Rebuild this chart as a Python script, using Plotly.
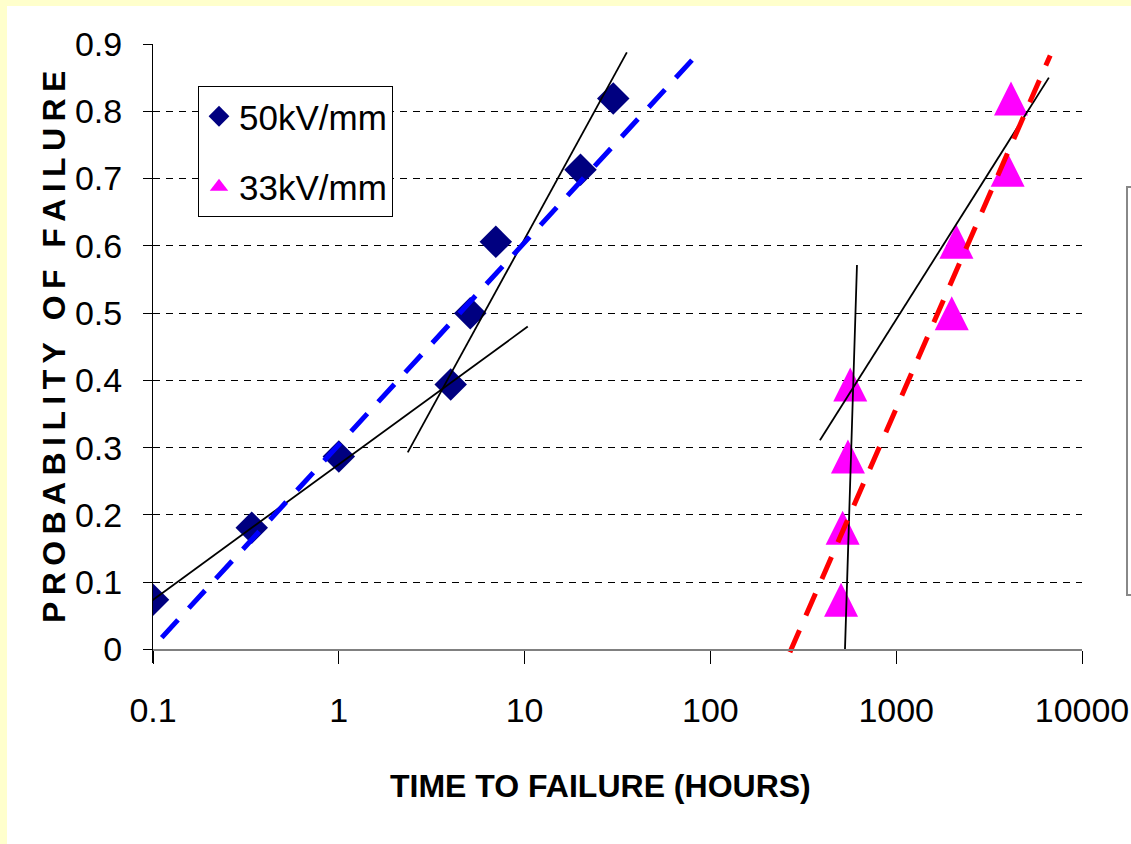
import plotly.graph_objects as go

# ---- data ----
series_names = ["50kV/mm", "33kV/mm"]
prob = [0.074, 0.181, 0.287, 0.394, 0.5, 0.606, 0.713, 0.819]
time_50 = [0.1, 0.34, 1.0, 4.0, 5.1, 7.0, 20, 30]
time_33 = [505, 515, 550, 566, 1990, 2110, 3980, 4150]

# fitted straight lines (end points)
fit50_low_x = [0.0638, 10.4]
fit50_low_y = [0.0346, 0.480]
fit50_high_x = [2.35, 35.5]
fit50_high_y = [0.293, 0.8875]
fit33_low_x = [530, 615]
fit33_low_y = [0.0, 0.5715]
fit33_high_x = [388.7, 6633]
fit33_high_y = [0.311, 0.850]
dash50_x = [0.0797, 79.6]
dash50_y = [-0.026, 0.876]
dash33_x = [267.8, 6745]
dash33_y = [-0.004, 0.883]

x_tickvals = [0.1, 1, 10, 100, 1000, 10000]
x_ticktext = ["0.1", "1", "10", "100", "1000", "10000"]
y_tickvals = [0, 0.1, 0.2, 0.3, 0.4, 0.5, 0.6, 0.7, 0.8, 0.9]
y_ticktext = ["0", "0.1", "0.2", "0.3", "0.4", "0.5", "0.6", "0.7", "0.8", "0.9"]

FONT = "Liberation Sans, Arial, sans-serif"
W, H = 1131, 844
ML, MR, MT, MB = 153, 49, 44, 181
PW, PH = W - ML - MR, H - MT - MB
Y0, Y1 = -0.02, 0.9

fig = go.Figure()

fig.add_trace(go.Scatter(
    x=time_50, y=prob, mode="markers", name=series_names[0],
    legendgroup="a",
    marker=dict(symbol="diamond", size=25, color="#000080"),
))
# 33kV/mm: small triangle (legend key) underneath the big triangle marker
fig.add_trace(go.Scatter(
    x=time_33, y=prob, mode="markers", name=series_names[1],
    legendgroup="b",
    marker=dict(symbol="triangle-up", size=16, color="#FF00FF"),
))
fig.add_trace(go.Scatter(
    x=time_33, y=prob, mode="markers", name=series_names[1],
    legendgroup="b", showlegend=False,
    marker=dict(symbol="arrow-down", angle=180, standoff=17, size=34, color="#FF00FF"),
))

for xs, ys in [(fit50_low_x, fit50_low_y), (fit50_high_x, fit50_high_y),
               (fit33_low_x, fit33_low_y), (fit33_high_x, fit33_high_y)]:
    fig.add_trace(go.Scatter(x=xs, y=ys, mode="lines", showlegend=False,
                             line=dict(color="black", width=1.8)))

fig.add_trace(go.Scatter(x=dash50_x, y=dash50_y, mode="lines", showlegend=False,
                         line=dict(color="#0000FF", width=5, dash="24px,16px")))
fig.add_trace(go.Scatter(x=dash33_x, y=dash33_y, mode="lines", showlegend=False,
                         line=dict(color="#FF0000", width=5, dash="24px,16px")))


def px_x(p):
    return (p - ML) / PW


def px_y(q):
    return (H - MB - q) / PH


ytitle = ("\u2009".join("PROBABILITY") + "\u2009 \u2009" + "\u2009".join("OF")
          + "\u2009 \u2009" + "\u2009".join("FAILURE"))

fig.update_layout(
    width=W, height=H,
    autosize=False,
    margin=dict(l=ML, r=MR, t=MT, b=MB, autoexpand=False),
    paper_bgcolor="#FFFFCC",
    plot_bgcolor="white",
    font=dict(family=FONT, size=34, color="black"),
    showlegend=True,
    legend=dict(
        x=px_x(198), y=px_y(86), xanchor="left", yanchor="top",
        bgcolor="white", bordercolor="black", borderwidth=1,
        font=dict(family=FONT, size=35, color="black"),
        traceorder="grouped", tracegroupgap=22,
    ),
    xaxis=dict(
        type="log", range=[-1, 4],
        tickvals=x_tickvals, ticktext=x_ticktext,
        showline=True, linecolor="#808080", linewidth=2,
        ticks="outside", ticklen=13, tickcolor="black", tickwidth=1,
        showgrid=False, zeroline=False, automargin=False,
        anchor="free", position=(0 - Y0) / (Y1 - Y0),
        tickfont=dict(family=FONT, size=34, color="black"),
        ticklabelstandoff=18, ticklabeloverflow="allow",
    ),
    yaxis=dict(
        range=[Y0, Y1],
        tickvals=y_tickvals, ticktext=y_ticktext,
        showline=True, linecolor="black", linewidth=1,
        ticks="outside", ticklen=9, tickcolor="black", tickwidth=1,
        showgrid=True, gridcolor="black", gridwidth=1, griddash="7px,6px",
        zeroline=False, automargin=False,
        tickfont=dict(family=FONT, size=34, color="black"),
        ticklabelstandoff=14,
    ),
    shapes=[
        dict(type="rect", xref="paper", yref="paper", layer="below",
             x0=px_x(7), x1=px_x(W + 50), y0=px_y(H + 50), y1=px_y(6),
             fillcolor="white", line=dict(width=0)),
        dict(type="rect", xref="paper", yref="paper", layer="above",
             x0=px_x(1127), x1=px_x(W + 20), y0=px_y(595), y1=px_y(187),
             line=dict(color="#888888", width=2)),
    ],
    annotations=[
        dict(text=ytitle, xref="paper", yref="paper", x=px_x(54), y=px_y(347),
             xanchor="center", yanchor="middle", textangle=-90, showarrow=False,
             font=dict(family=FONT, size=32, color="black", weight="bold")),
        dict(text="TIME TO FAILURE (HOURS)", xref="paper", yref="paper",
             x=px_x(600), y=px_y(786), xanchor="center", yanchor="middle", showarrow=False,
             font=dict(family=FONT, size=32, color="black", weight="bold")),
    ],
)

fig.write_html(
    "out.html",
    config={"displayModeBar": False, "responsive": False},
    post_script="document.body.style.margin='0';document.body.style.overflow='hidden';",
)
